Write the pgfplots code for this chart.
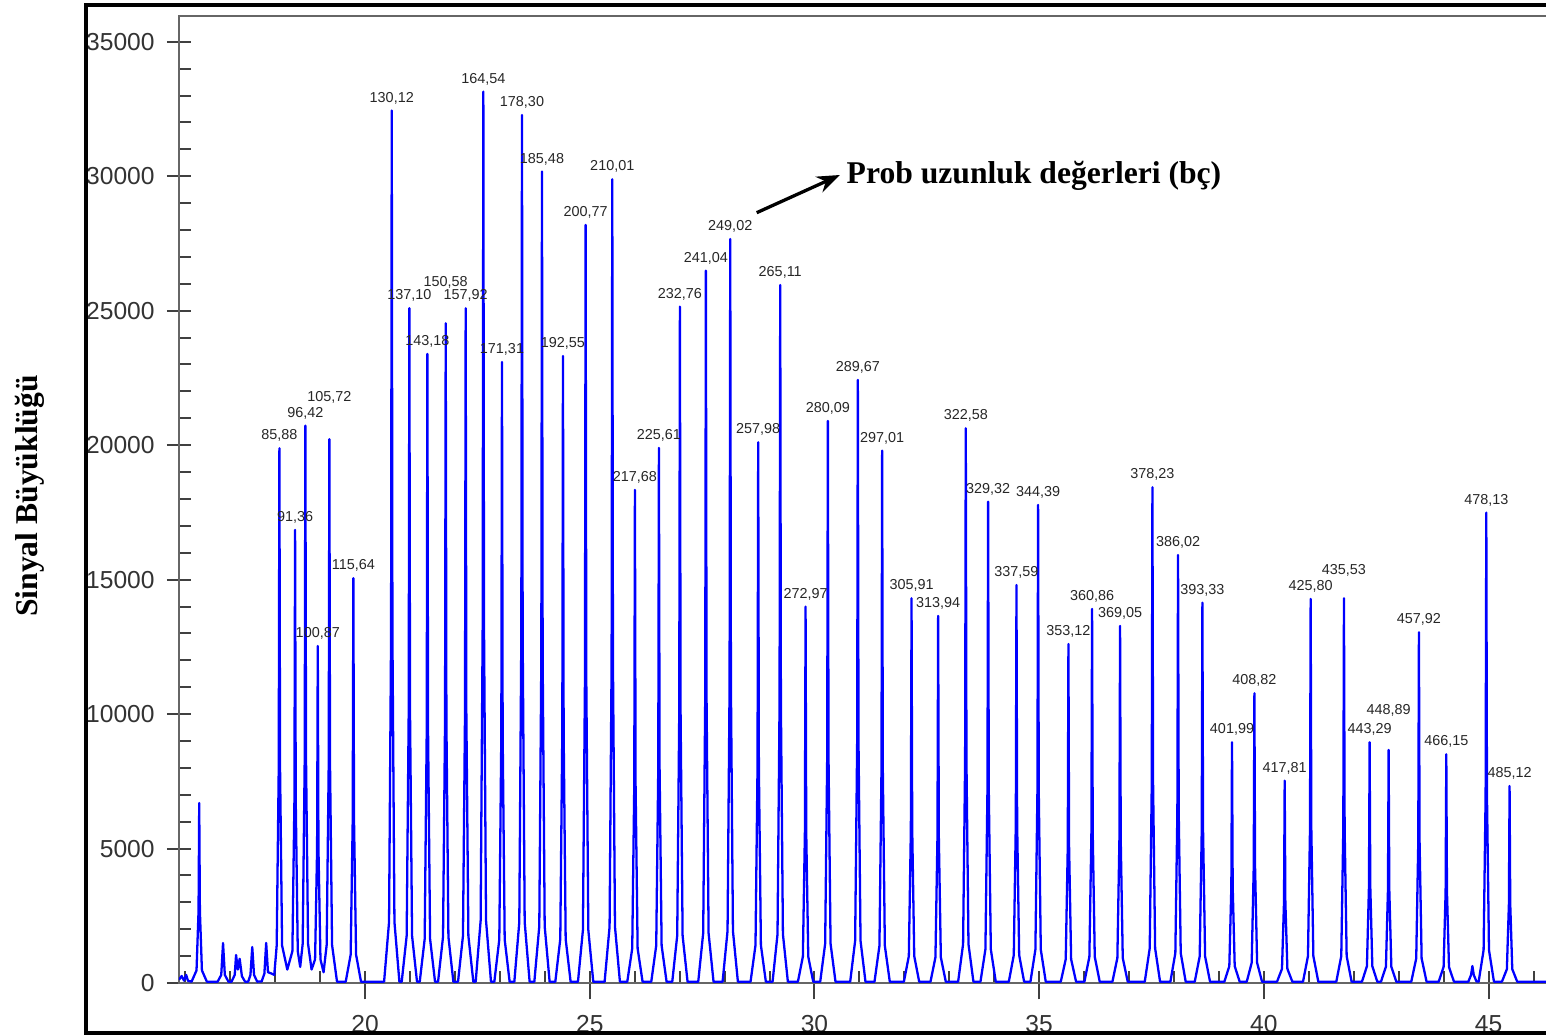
\documentclass[border=0pt]{standalone}
\usepackage{fontspec}
\setmainfont{Liberation Serif}
\newfontfamily\arial{Liberation Sans}
\usepackage{pgfplots}
\usepackage{pgfplotstable}
\pgfplotsset{compat=1.18}
\usetikzlibrary{arrows.meta}

% capillary electrophoresis trace (migration time vs. signal)
\pgfplotstableread{
x y
15.86 120
15.92 260
15.97 90
16.02 300
16.06 80
16.14 50
16.25 469
16.295 2678
16.31 6694
16.325 2678
16.37 469
16.48 50
16.72 50
16.80 300
16.84 1488
16.88 300
16.96 50
17.03 50
17.10 300
17.13 1040
17.17 500
17.21 900
17.26 250
17.33 50
17.40 50
17.45 300
17.49 1340
17.53 300
17.60 50
17.70 60
17.76 350
17.80 1490
17.84 400
17.92 350
17.98 300
18.034 1392
18.079 7954
18.094 19885
18.109 7954
18.154 1392
18.27 500
18.383 1179
18.428 6739
18.443 16847
18.458 6739
18.503 1179
18.557 600
18.612 1451
18.657 8291
18.672 20727
18.687 8291
18.732 1451
18.81 500
18.888 877
18.933 5013
18.948 12533
18.963 5013
19.008 877
19.077 400
19.146 1415
19.191 8088
19.206 20220
19.221 8088
19.266 1415
19.376 50
19.57 50
19.68 1054
19.725 6020
19.74 15051
19.755 6020
19.80 1054
19.91 50
20.424 50
20.534 2271
20.579 12976
20.594 32441
20.609 12976
20.654 2271
20.764 50
20.816 50
20.926 1756
20.971 10037
20.986 25092
21.001 10037
21.046 1756
21.156 50
21.217 50
21.327 1638
21.372 9357
21.387 23393
21.402 9357
21.447 1638
21.557 50
21.625 50
21.735 1717
21.780 9814
21.795 24534
21.810 9814
21.855 1717
21.965 50
22.069 50
22.179 1756
22.224 10037
22.239 25092
22.254 10037
22.299 1756
22.409 50
22.462 50
22.572 2320
22.617 13259
22.632 33148
22.647 13259
22.692 2320
22.802 50
22.877 50
22.987 1617
23.032 9238
23.047 23095
23.062 9238
23.107 1617
23.217 50
23.322 50
23.432 2260
23.477 12912
23.492 32281
23.507 12912
23.552 2260
23.662 50
23.767 50
23.877 2112
23.922 12069
23.937 30173
23.952 12069
23.997 2112
24.107 50
24.234 50
24.344 1632
24.389 9327
24.404 23318
24.419 9327
24.464 1632
24.574 50
24.738 50
24.848 1973
24.893 11276
24.908 28190
24.923 11276
24.968 1973
25.078 50
25.331 50
25.441 2092
25.486 11956
25.501 29890
25.516 11956
25.561 2092
25.671 50
25.835 50
25.945 1283
25.990 7334
26.005 18335
26.020 7334
26.065 1283
26.175 50
26.369 50
26.479 1393
26.524 7959
26.539 19897
26.554 7959
26.599 1393
26.709 50
26.836 50
26.946 1761
26.991 10061
27.006 25152
27.021 10061
27.066 1761
27.176 50
27.414 50
27.524 1854
27.569 10596
27.584 26491
27.599 10596
27.644 1854
27.754 50
27.956 50
28.066 1937
28.111 11068
28.126 27669
28.141 11068
28.186 1937
28.296 50
28.578 50
28.688 1408
28.733 8043
28.748 20108
28.763 8043
28.808 1408
28.918 50
29.068 50
29.178 1817
29.223 10384
29.238 25959
29.253 10384
29.298 1817
29.408 50
29.632 50
29.742 980
29.787 5598
29.802 13996
29.817 5598
29.862 980
29.972 50
30.128 50
30.238 1463
30.283 8360
30.298 20901
30.313 8360
30.358 1463
30.468 50
30.795 50
30.905 1570
30.950 8970
30.965 22426
30.980 8970
31.025 1570
31.135 50
31.336 50
31.446 1386
31.491 7919
31.506 19797
31.521 7919
31.566 1386
31.676 50
31.990 50
32.100 1001
32.145 5723
32.160 14307
32.175 5723
32.220 1001
32.330 50
32.582 50
32.692 955
32.737 5460
32.752 13649
32.767 5460
32.812 955
32.922 50
33.197 50
33.307 1444
33.352 8252
33.367 20629
33.382 8252
33.427 1444
33.537 50
33.694 50
33.804 1253
33.849 7160
33.864 17900
33.879 7160
33.924 1253
34.034 50
34.325 50
34.435 1036
34.480 5921
34.495 14802
34.510 5921
34.555 1036
34.665 50
34.806 50
34.916 1244
34.961 7111
34.976 17777
34.991 7111
35.036 1244
35.146 50
35.481 50
35.591 882
35.636 5043
35.651 12607
35.666 5043
35.711 882
35.821 50
36.007 50
36.117 974
36.162 5564
36.177 13909
36.192 5564
36.237 974
36.347 50
36.630 50
36.740 929
36.785 5311
36.800 13277
36.815 5311
36.860 929
36.970 50
37.350 50
37.460 1290
37.505 7374
37.520 18435
37.535 7374
37.580 1290
37.690 50
37.920 50
38.030 1114
38.075 6367
38.090 15917
38.105 6367
38.150 1114
38.260 50
38.462 50
38.572 990
38.617 5658
38.632 14144
38.647 5658
38.692 990
38.802 50
39.121 50
39.231 627
39.276 3581
39.291 8952
39.306 3581
39.351 627
39.461 50
39.619 50
39.729 754
39.774 4310
39.789 10774
39.804 4310
39.849 754
39.959 50
40.293 50
40.403 527
40.448 3010
40.463 7524
40.478 3010
40.523 527
40.633 50
40.871 50
40.981 1000
41.026 5712
41.041 14281
41.056 5712
41.101 1000
41.211 50
41.612 50
41.722 1001
41.767 5723
41.782 14307
41.797 5723
41.842 1001
41.952 50
42.183 50
42.293 627
42.338 3581
42.353 8952
42.368 3581
42.413 627
42.523 50
42.606 50
42.716 607
42.761 3466
42.776 8665
42.791 3466
42.836 607
42.946 50
43.280 50
43.390 913
43.435 5217
43.450 13043
43.465 5217
43.510 913
43.620 50
43.889 50
43.999 595
44.044 3402
44.059 8505
44.074 3402
44.119 595
44.229 50
44.550 50
44.610 300
44.640 630
44.670 300
44.730 60
44.779 50
44.889 1224
44.934 6996
44.949 17491
44.964 6996
45.009 1224
45.119 50
45.297 50
45.407 513
45.452 2930
45.467 7326
45.482 2930
45.527 513
45.637 50
46.500 50
}\trace

% called peaks: position, height, fragment size (bp), label lift (mm)
\pgfplotstableread{
x y lab dy
18.094 19885 85,88 0.85
18.443 16847 91,36 0.85
18.672 20727 96,42 0.85
18.948 12533 100,87 0.85
19.206 20220 105,72 3.8
19.740 15051 115,64 0.85
20.594 32441 130,12 0.85
20.986 25092 137,10 0.85
21.387 23393 143,18 0.85
21.795 24534 150,58 3.7
22.239 25092 157,92 0.85
22.632 33148 164,54 0.85
23.047 23095 171,31 0.85
23.492 32281 178,30 0.85
23.937 30173 185,48 0.85
24.404 23318 192,55 0.85
24.908 28190 200,77 0.85
25.501 29890 210,01 0.85
26.005 18335 217,68 0.85
26.539 19897 225,61 0.85
27.006 25152 232,76 0.85
27.584 26491 241,04 0.85
28.126 27669 249,02 0.85
28.748 20108 257,98 0.85
29.238 25959 265,11 0.85
29.802 13996 272,97 0.85
30.298 20901 280,09 0.85
30.965 22426 289,67 0.85
31.506 19797 297,01 0.85
32.160 14307 305,91 0.85
32.752 13649 313,94 0.85
33.367 20629 322,58 0.85
33.864 17900 329,32 0.85
34.495 14802 337,59 0.85
34.976 17777 344,39 0.85
35.651 12607 353,12 0.85
36.177 13909 360,86 0.85
36.800 13277 369,05 0.85
37.520 18435 378,23 0.85
38.090 15917 386,02 0.85
38.632 14144 393,33 0.85
39.291 8952 401,99 0.85
39.789 10774 408,82 0.85
40.463 7524 417,81 0.85
41.041 14281 425,80 0.85
41.782 14307 435,53 2.4
42.353 8952 443,29 0.85
42.776 8665 448,89 3.5
43.450 13043 457,92 0.85
44.059 8505 466,15 0.85
44.949 17491 478,13 0.85
45.467 7326 485,12 0.85
}\peaklabels

\definecolor{trace}{RGB}{0,0,255}

\begin{document}
\begin{tikzpicture}
\begin{axis}[
  at={(17.9mm,5.3mm)}, anchor=south west,
  scale only axis, width=137.7mm, height=96.7mm,
  xmin=15.86, xmax=46.5, ymin=0, ymax=35960,
  xtick={20,25,...,45}, minor xtick={16,17,...,46},
  ytick={0,5000,...,35000}, minor ytick={0,1000,...,35000},
  tick pos=left, tick align=center,
  major tick length=2.4mm, minor tick length=1.2mm,
  minor x tick style={yshift=0.6mm},
  minor y tick style={xshift=0.6mm},
  major x tick style={yshift=-0.45mm},
  axis line style={draw=black!60, line width=0.28mm},
  tick style={black!75, line width=0.2mm},
  tick label style={font=\arial\fontsize{7}{8}\selectfont, text=black!80},
  xticklabel style={yshift=-0.8mm},
  /pgf/number format/assume math mode=true,
  /pgf/number format/1000 sep={},
  scaled y ticks=false,
]
\addplot[draw=none, mark=none, nodes near coords, point meta=explicit symbolic,
  visualization depends on={\thisrow{dy}\as\labdy},
  every node near coord/.style={anchor=base, inner sep=0pt, yshift=\labdy mm,
    font=\arial\fontsize{4.1}{5}\selectfont, text=black!85}]
  table[x=x, y=y, meta=lab] {\peaklabels};
\addplot[trace, line width=0.65pt, mark=none, line join=round] table[x=x, y=y] {\trace};
\end{axis}

\node[rotate=90, anchor=base, inner sep=0pt, font=\bfseries\fontsize{9}{11}\selectfont]
  at (3.73mm,54.0mm) {Sinyal Büyüklüğü};
\draw[line width=0.33mm, -{Stealth[length=2.3mm, width=1.7mm]}]
  (75.67mm,82.33mm) -- (84.0mm,86.1mm);
\node[anchor=base west, inner sep=0pt, font=\bfseries\fontsize{9}{11}\selectfont]
  at (84.6mm,85.27mm) {Prob uzunluk değerleri (bç)};
\draw[line width=0.4mm] (8.57mm,0.3mm) rectangle (157mm,103.07mm);

\pgfresetboundingbox
\useasboundingbox (0,0) rectangle (154.6mm,103.6mm);
\end{tikzpicture}
\end{document}
